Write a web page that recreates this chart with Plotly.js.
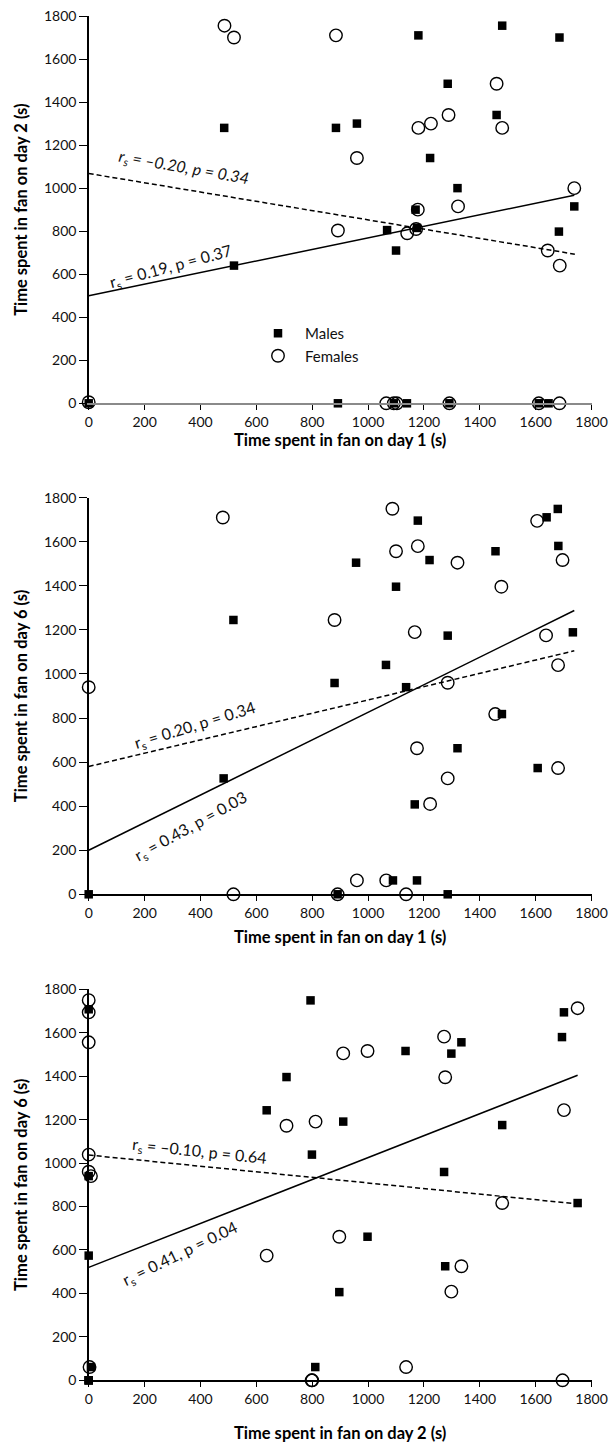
<!DOCTYPE html>
<html>
<head>
<meta charset="utf-8">
<script src="https://cdn.plot.ly/plotly-3.0.1.min.js"></script>
<style>html,body{margin:0;padding:0;background:#fff;}#chart{width:611px;height:1443px;}</style>
</head>
<body>
<div id="chart"></div>
<script>
// ---------- Panel 1: day 1 (x) vs day 2 (y) ----------
var p1MalesX   = [0, 485, 885, 960, 1180, 1480, 1685, 1285, 1460, 1222, 1320, 1738, 1170, 1068, 1683, 1175, 1100, 520, 892, 1092, 1139, 1291, 1611, 1646];
var p1MalesY   = [0, 1280, 1280, 1300, 1710, 1755, 1700, 1485, 1340, 1140, 1000, 915, 900, 805, 798, 815, 710, 640, 0, 0, 0, 0, 0, 0];
var p1FemalesX = [486, 520, 885, 960, 1180, 1225, 1288, 1460, 1480, 1322, 1738, 1178, 892, 1140, 1172, 1643, 1686, 0, 1065, 1092, 1103, 1291, 1611, 1685];
var p1FemalesY = [1755, 1700, 1710, 1140, 1280, 1300, 1340, 1485, 1280, 915, 1000, 900, 803, 790, 810, 710, 640, 5, 0, 0, 0, 0, 0, 0];
var p1SolidX = [0, 1738], p1SolidY = [500, 967];
var p1DashX  = [0, 1740], p1DashY  = [1068, 693];

// ---------- Panel 2: day 1 (x) vs day 6 (y) ----------
var p2MalesX   = [518, 957, 1100, 1178, 1220, 1456, 1639, 1679, 1681, 1733, 1285, 1064, 880, 1136, 1479, 1320, 1607, 483, 1167, 1089, 1175, 0, 891, 1285];
var p2MalesY   = [1245, 1505, 1396, 1696, 1517, 1557, 1711, 1749, 1581, 1189, 1174, 1041, 959, 940, 818, 663, 573, 526, 408, 63, 63, 0, 0, 0];
var p2FemalesX = [480, 1087, 1100, 1178, 1320, 1477, 1605, 1696, 880, 1167, 1637, 1680, 1285, 0, 1455, 1175, 1285, 1222, 1680, 960, 1065, 518, 891, 1136];
var p2FemalesY = [1710, 1750, 1557, 1580, 1505, 1396, 1695, 1517, 1245, 1190, 1175, 1040, 960, 940, 818, 663, 526, 410, 573, 63, 63, 0, 0, 0];
var p2SolidX = [0, 1738], p2SolidY = [200, 1288];
var p2DashX  = [0, 1738], p2DashY  = [580, 1105];

// ---------- Panel 3: day 2 (x) vs day 6 (y) ----------
var p3MalesX   = [0, 794, 708, 637, 911, 799, 1134, 1334, 1298, 1272, 1480, 1701, 1694, 0, 1750, 998, 1276, 897, 0, 811, 8, 0, 0, 0];
var p3MalesY   = [1708, 1749, 1396, 1243, 1191, 1039, 1516, 1556, 1504, 959, 1175, 1694, 1580, 940, 816, 661, 525, 406, 574, 61, 61, 0, 0, 0];
var p3FemalesX = [0, 0, 0, 0, 0, 8, 1272, 1276, 911, 998, 708, 812, 1701, 1750, 1480, 897, 637, 1334, 1298, 1136, 3, 798, 800, 1696];
var p3FemalesY = [1750, 1694, 1556, 1039, 960, 940, 1582, 1395, 1505, 1516, 1172, 1191, 1244, 1713, 816, 661, 574, 525, 408, 61, 61, 0, 0, 0];
var p3SolidX = [0, 1750], p3SolidY = [520, 1404];
var p3DashX  = [0, 1750], p3DashY  = [1037, 812];

var seriesNames = ['Males', 'Females'];
var xTitles = ['Time spent in fan on day 1 (s)', 'Time spent in fan on day 1 (s)', 'Time spent in fan on day 2 (s)'];
var yTitles = ['Time spent in fan on day 2 (s)', 'Time spent in fan on day 6 (s)', 'Time spent in fan on day 6 (s)'];
var statLabels = [
  ['<i>r<sub>s</sub> = \u20130.20, p = 0.34</i>', 'r<sub>s</sub> = 0.19, p = 0.37'],
  ['r<sub>s</sub> = 0.20, p = 0.34', 'r<sub>s</sub> = 0.43, p = 0.03'],
  ['r<sub>s</sub> = \u20130.10, p = 0.64', 'r<sub>s</sub> = 0.41, p = 0.04']
];

var FONT = 'Lato, "Open Sans", sans-serif';
var panels = [
  {mx: p1MalesX, my: p1MalesY, fx: p1FemalesX, fy: p1FemalesY, sx: p1SolidX, sy: p1SolidY, dx: p1DashX, dy: p1DashY},
  {mx: p2MalesX, my: p2MalesY, fx: p2FemalesX, fy: p2FemalesY, sx: p2SolidX, sy: p2SolidY, dx: p2DashX, dy: p2DashY},
  {mx: p3MalesX, my: p3MalesY, fx: p3FemalesX, fy: p3FemalesY, sx: p3SolidX, sy: p3SolidY, dx: p3DashX, dy: p3DashY}
];

var H = 1443, W = 611;
var xDom = [88.7 / W, 591.6 / W];
// pixel rows of y=0 and y=1800 for each panel
var yPix = [[403.3, 16], [894.3, 497.7], [1380.3, 989.3]];
var xTitleStand = [4, 12, 32];

var traces = [];
var layout = {
  width: W, height: H,
  margin: {l: 0, r: 0, t: 0, b: 0},
  paper_bgcolor: '#fff', plot_bgcolor: '#fff',
  font: {family: FONT, size: 14, color: '#111'},
  showlegend: true,
  legend: {x: 251 / W, y: (H - 317) / H, xanchor: 'left', yanchor: 'top',
           bgcolor: 'rgba(0,0,0,0)', font: {family: FONT, size: 15, color: '#111'},
           itemwidth: 44, tracegroupgap: 0},
  annotations: []
};

var annPos = [
  [{x: 342, y: 1094, a: 10}, {x: 295, y: 635, a: -15}],
  [{x: 379, y: 768, a: -17}, {x: 365, y: 307, a: -29}],
  [{x: 398, y: 1052, a: 6}, {x: 328, y: 585, a: -26}]
];

panels.forEach(function (p, i) {
  var xa = i === 0 ? 'x' : 'x' + (i + 1);
  var ya = i === 0 ? 'y' : 'y' + (i + 1);
  var xk = i === 0 ? 'xaxis' : 'xaxis' + (i + 1);
  var yk = i === 0 ? 'yaxis' : 'yaxis' + (i + 1);
  traces.push({x: p.sx, y: p.sy, xaxis: xa, yaxis: ya, mode: 'lines', type: 'scatter',
               line: {color: '#000', width: 1.5}, showlegend: false, hoverinfo: 'skip', cliponaxis: false});
  traces.push({x: p.dx, y: p.dy, xaxis: xa, yaxis: ya, mode: 'lines', type: 'scatter',
               line: {color: '#000', width: 1.5, dash: '5px,3px'}, showlegend: false, hoverinfo: 'skip', cliponaxis: false});
  traces.push({x: p.mx, y: p.my, xaxis: xa, yaxis: ya, mode: 'markers', type: 'scatter', name: seriesNames[0],
               marker: {symbol: 'square', size: 8.5, color: '#000', line: {width: 0}},
               showlegend: i === 0, cliponaxis: false});
  traces.push({x: p.fx, y: p.fy, xaxis: xa, yaxis: ya, mode: 'markers', type: 'scatter', name: seriesNames[1],
               marker: {symbol: 'circle-open', size: 12.5, color: '#000', line: {width: 1.4, color: '#000'}},
               showlegend: i === 0, cliponaxis: false});

  var y0 = (H - yPix[i][0]) / H, y1 = (H - yPix[i][1]) / H;
  layout[xk] = {
    domain: xDom, anchor: ya, range: [0, 1800], tick0: 0, dtick: 200,
    ticks: 'outside', ticklen: 5, tickwidth: 1, tickcolor: '#000',
    showline: true, linecolor: i === 0 ? '#8a8a8a' : '#000', linewidth: i === 0 ? 2 : 1.5,
    showgrid: false, zeroline: false, fixedrange: true,
    tickfont: {family: FONT, size: 14, color: '#111'},
    title: {text: '<b>' + xTitles[i] + '</b>', standoff: xTitleStand[i], font: {family: FONT, size: 16.5, color: '#000'}}
  };
  layout[yk] = {
    domain: [y0, y1], anchor: xa, range: [0, 1800], tick0: 0, dtick: 200,
    ticks: 'outside', ticklen: 8, tickwidth: 1, tickcolor: '#000',
    showline: true, linecolor: '#000', linewidth: 1.5,
    showgrid: false, zeroline: false, fixedrange: true,
    tickfont: {family: FONT, size: 14, color: '#111'},
    title: {text: '<b>' + yTitles[i] + '</b>', standoff: 12, font: {family: FONT, size: 16.5, color: '#000'}}
  };
  statLabels[i].forEach(function (t, j) {
    layout.annotations.push({
      xref: xa, yref: ya, x: annPos[i][j].x, y: annPos[i][j].y, text: t,
      showarrow: false, textangle: annPos[i][j].a, xanchor: 'center', yanchor: 'middle',
      font: {family: FONT, size: 16, color: '#111'}
    });
  });
});

Plotly.newPlot('chart', traces, layout, {displayModeBar: false, staticPlot: true});
</script>
</body>
</html>
